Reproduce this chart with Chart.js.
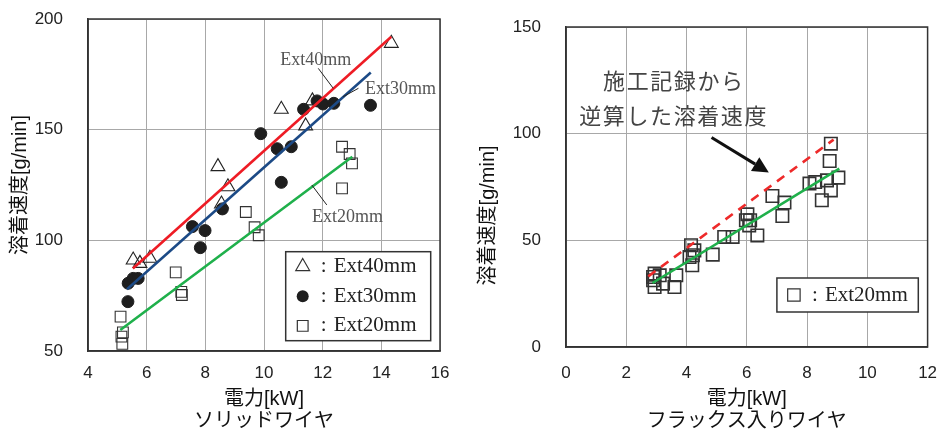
<!DOCTYPE html>
<html>
<head>
<meta charset="utf-8">
<script src="https://cdn.jsdelivr.net/npm/chart.js@4/dist/chart.umd.min.js"></script>
<style>
  body { margin: 0; background: #fff; }
  #wrap { position: relative; width: 938px; height: 435px; }
  canvas { position: absolute; top: 0; }
</style>
</head>
<body>
<div id="wrap">
  <canvas id="solid" width="469" height="435" style="left:0"></canvas>
  <canvas id="flux" width="469" height="435" style="left:469px"></canvas>
</div>
<script>
// ソリッドワイヤ
const ext40X = [5.54, 5.77, 6.11, 8.43, 8.55, 8.77, 10.59, 11.42, 11.65, 14.34];
const ext40Y = [91.1, 89.6, 91.9, 133.3, 116.4, 124.2, 159.2, 151.7, 163.0, 189.0];
const ext30X = [5.36, 5.37, 5.54, 5.71, 7.56, 7.83, 7.99, 8.58, 9.89, 10.45, 10.59, 10.93, 11.35, 11.81, 12.01, 12.38, 13.63];
const ext30Y = [72.3, 80.6, 82.8, 82.8, 106.2, 96.7, 104.4, 114.2, 148.2, 141.4, 126.2, 142.3, 159.2, 163.0, 161.6, 161.9, 161.0];
const ext20X = [5.11, 5.19, 5.14, 5.17, 6.99, 7.18, 7.20, 9.38, 9.68, 9.82, 12.66, 12.92, 13.00, 12.66];
const ext20Y = [65.5, 58.4, 56.5, 53.2, 85.5, 76.7, 75.3, 112.8, 105.9, 102.3, 142.3, 139.0, 134.8, 123.5];
const fit40X = [5.53, 14.34], fit40Y = [87.3, 192.0];
const fit30X = [5.33, 13.64], fit30Y = [77.9, 175.8];
const fit20X = [5.10, 13.01], fit20Y = [59.5, 137.8];

// フラックス入りワイヤ
const fluxX = [2.89, 2.94, 2.94, 2.89, 3.11, 3.22, 3.60, 3.66, 4.10, 4.15, 4.19, 4.21, 4.26, 4.87, 5.25, 5.53,
  5.97, 6.02, 6.08, 6.11, 6.35, 6.85, 7.18, 7.25, 8.08, 8.27, 8.49, 8.66, 8.75, 8.79, 8.79, 9.04];
const fluxY = [31.3, 34.4, 28.1, 32.8, 33.6, 29.7, 28.1, 33.6, 42.2, 47.7, 38.3, 43.0, 45.3, 43.3, 51.6, 51.6,
  59.4, 62.2, 57.0, 59.4, 52.3, 70.8, 61.4, 67.7, 76.6, 77.3, 68.8, 78.1, 87.2, 95.3, 73.4, 79.4];
const calcX = [2.73, 8.88], calcY = [33.1, 97.2];   // 施工記録から逆算
const fluxFitX = [2.87, 9.07], fluxFitY = [30.0, 83.6];

const xTitle = "電力[kW]";
const yTitle = "溶着速度[g/min]";

const SANS = '"Liberation Sans", "Noto Sans CJK JP", sans-serif';
const SERIF = '"Liberation Serif", "DejaVu Serif", serif';

const pts = (xs, ys) => xs.map((x, i) => ({ x, y: ys[i] }));

function axes(xr, yr, yWidth, xHeight, xPad, subtitle, showYTitle) {
  const tickFont = { family: SANS, size: 17 };
  return {
    x: {
      type: "linear", min: xr[0], max: xr[1],
      ticks: { stepSize: 2, color: "#222", font: tickFont, padding: xPad },
      grid: { color: "#a8a8a8", lineWidth: 1, drawTicks: false },
      border: { color: "#333", width: 1.5 },
      title: { display: true, text: [xTitle, subtitle], color: "#111",
        font: { family: SANS, size: 20, lineHeight: 1.08 }, padding: { top: 0, bottom: 3 } },
      afterFit: s => { s.height = xHeight; s.paddingLeft = 0; s.paddingRight = 0; }
    },
    y: {
      type: "linear", min: yr[0], max: yr[1],
      ticks: { stepSize: 50, color: "#222", font: tickFont, padding: 25 },
      grid: { color: "#a8a8a8", lineWidth: 1, drawTicks: false },
      border: { color: "#333", width: 1.5 },
      title: { display: showYTitle, text: yTitle, color: "#111",
        font: { family: SANS, size: 20, lineHeight: 1 }, padding: { top: 10, bottom: 0 } },
      afterFit: s => { s.width = yWidth; s.paddingTop = 0; s.paddingBottom = 0; }
    }
  };
}

function fitLine(xs, ys, color, dash) {
  return { data: pts(xs, ys), showLine: true, borderColor: color, borderWidth: 2.6,
    borderDash: dash || [], pointRadius: 0 };
}

function marker(ctx, style, x, y, r) {
  ctx.beginPath();
  if (style === "triangle") {
    ctx.moveTo(x, y - r);
    ctx.lineTo(x + r * 0.866, y + r * 0.5);
    ctx.lineTo(x - r * 0.866, y + r * 0.5);
    ctx.closePath();
    ctx.stroke();
  } else if (style === "circle") {
    ctx.arc(x, y, r, 0, Math.PI * 2);
    ctx.fill();
  } else {
    const s = r * Math.SQRT1_2;
    ctx.rect(x - s, y - s, 2 * s, 2 * s);
    ctx.stroke();
  }
}

function legendBox(ctx, a, offR, offB, w, h, rows) {
  const left = a.right - offR - w, top = a.bottom - offB - h;
  ctx.fillStyle = "#fff";
  ctx.fillRect(left, top, w, h);
  ctx.strokeStyle = "#333";
  ctx.lineWidth = 1.5;
  ctx.strokeRect(left, top, w, h);
  ctx.font = "21px " + SERIF;
  ctx.textBaseline = "middle";
  rows.forEach((r, i) => {
    const y = top + h / (rows.length * 2) * (2 * i + 1);
    ctx.strokeStyle = "#333"; ctx.fillStyle = "#1e1e1e"; ctx.lineWidth = 1.2;
    marker(ctx, r.style, left + 17, y, r.r);
    ctx.fillStyle = "#222";
    ctx.fillText(":", left + 35, y);
    ctx.fillText(r.text, left + 48, y);
  });
}

const frame = {
  id: "frame",
  afterDraw(chart) {
    const { ctx, chartArea: a } = chart;
    ctx.save();
    ctx.strokeStyle = "#333";
    ctx.lineWidth = 1.5;
    ctx.strokeRect(a.left, a.top, a.right - a.left, a.bottom - a.top);
    ctx.restore();
  }
};

const solidNotes = {
  id: "solidNotes",
  afterDraw(chart) {
    const { ctx, chartArea: a, scales: { x, y } } = chart;
    ctx.save();
    ctx.font = "18px " + SERIF;
    ctx.fillStyle = "#555";
    ctx.textBaseline = "middle";
    ctx.fillText("Ext40mm", x.getPixelForValue(10.55), y.getPixelForValue(181.5));
    ctx.fillText("Ext30mm", x.getPixelForValue(13.44), y.getPixelForValue(168.2));
    ctx.fillText("Ext20mm", x.getPixelForValue(11.64), y.getPixelForValue(110.5));
    ctx.strokeStyle = "#222";
    ctx.lineWidth = 1;
    [[11.85, 177.7, 12.36, 168.7], [13.22, 168.7, 12.70, 164.9], [12.14, 116.0, 11.63, 125.0]].forEach(l => {
      ctx.beginPath();
      ctx.moveTo(x.getPixelForValue(l[0]), y.getPixelForValue(l[1]));
      ctx.lineTo(x.getPixelForValue(l[2]), y.getPixelForValue(l[3]));
      ctx.stroke();
    });
    legendBox(ctx, a, 9.3, 10.3, 145, 89, [
      { style: "triangle", r: 8, text: "Ext40mm" },
      { style: "circle", r: 6, text: "Ext30mm" },
      { style: "rect", r: 7.6, text: "Ext20mm" }
    ]);
    ctx.restore();
  }
};

const fluxNotes = {
  id: "fluxNotes",
  afterDraw(chart) {
    const { ctx, chartArea: a, scales: { x, y } } = chart;
    ctx.save();
    // y axis title, sitting a little below the middle of the axis
    ctx.save();
    ctx.translate(19, y.getPixelForValue(61.7));
    ctx.rotate(-Math.PI / 2);
    ctx.font = "20px " + SANS;
    ctx.fillStyle = "#111";
    ctx.textAlign = "center";
    ctx.textBaseline = "middle";
    ctx.fillText(yTitle, 0, 0);
    ctx.restore();

    ctx.font = '22px "Noto Sans CJK JP", sans-serif';
    ctx.letterSpacing = "1.6px";
    ctx.fillStyle = "#444";
    ctx.textBaseline = "middle";
    ctx.fillText("施工記録から", x.getPixelForValue(1.23), y.getPixelForValue(125.0));
    ctx.fillText("逆算した溶着速度", x.getPixelForValue(0.44), y.getPixelForValue(108.6));
    ctx.letterSpacing = "0px";
    // arrow
    const x0 = x.getPixelForValue(4.83), y0 = y.getPixelForValue(98.2);
    const x1 = x.getPixelForValue(6.73), y1 = y.getPixelForValue(81.8);
    const ang = Math.atan2(y1 - y0, x1 - x0);
    const hl = 16, hw = 8;
    const bx = x1 - hl * Math.cos(ang), by = y1 - hl * Math.sin(ang);
    ctx.strokeStyle = "#111";
    ctx.fillStyle = "#111";
    ctx.lineWidth = 3;
    ctx.beginPath();
    ctx.moveTo(x0, y0);
    ctx.lineTo(bx, by);
    ctx.stroke();
    ctx.beginPath();
    ctx.moveTo(x1, y1);
    ctx.lineTo(bx + hw * Math.sin(ang), by - hw * Math.cos(ang));
    ctx.lineTo(bx - hw * Math.sin(ang), by + hw * Math.cos(ang));
    ctx.closePath();
    ctx.fill();
    legendBox(ctx, a, 9.3, 35, 141.4, 34, [
      { style: "rect", r: 8.8, text: "Ext20mm" }
    ]);
    ctx.restore();
  }
};

const common = {
  responsive: false,
  animation: false,
  devicePixelRatio: 1,
  events: [],
  plugins: { legend: { display: false }, tooltip: { enabled: false } }
};

new Chart(document.getElementById("solid"), {
  type: "scatter",
  data: {
    datasets: [
      fitLine(fit40X, fit40Y, "#ee1c25"),
      fitLine(fit30X, fit30Y, "#1c4a86"),
      fitLine(fit20X, fit20Y, "#1fb04b"),
      { label: "Ext40mm", data: pts(ext40X, ext40Y), pointStyle: "triangle", pointRadius: 8,
        borderColor: "#222", backgroundColor: "rgba(0,0,0,0)", borderWidth: 1.1 },
      { label: "Ext30mm", data: pts(ext30X, ext30Y), pointStyle: "circle", pointRadius: 6,
        borderColor: "#1e1e1e", backgroundColor: "#1e1e1e", borderWidth: 1 },
      { label: "Ext20mm", data: pts(ext20X, ext20Y), pointStyle: "rect", pointRadius: 7.6,
        borderColor: "#333", backgroundColor: "rgba(0,0,0,0)", borderWidth: 1.1 }
    ]
  },
  options: Object.assign({}, common, {
    layout: { padding: { top: 19, right: 29, left: 0, bottom: 0 } },
    scales: axes([4, 16], [50, 200], 88, 84, 12, "ソリッドワイヤ", true)
  }),
  plugins: [frame, solidNotes]
});

new Chart(document.getElementById("flux"), {
  type: "scatter",
  data: {
    datasets: [
      fitLine(calcX, calcY, "#ee2a2a", [9, 7]),
      fitLine(fluxFitX, fluxFitY, "#1fb04b"),
      { label: "Ext20mm", data: pts(fluxX, fluxY), pointStyle: "rect", pointRadius: 8.8,
        borderColor: "#333", backgroundColor: "rgba(0,0,0,0)", borderWidth: 1.6 }
    ]
  },
  options: Object.assign({}, common, {
    layout: { padding: { top: 27, right: 8, left: 0, bottom: 0 } },
    scales: axes([0, 12], [0, 150], 97, 88, 16, "フラックス入りワイヤ", false)
  }),
  plugins: [frame, fluxNotes]
});
</script>
</body>
</html>
